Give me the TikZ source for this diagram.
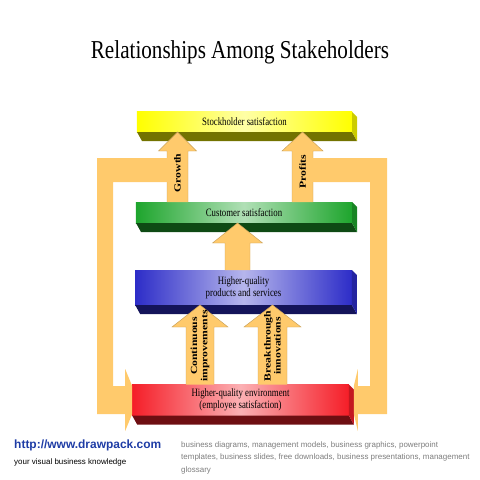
\documentclass[tikz,border=0pt]{standalone}
\usepackage{fontspec}
\setmainfont{Liberation Serif}
\newfontfamily\titlefont[FakeStretch=0.82]{Liberation Serif}
\newfontfamily\barfont[FakeStretch=0.78]{Liberation Serif}
\newfontfamily\arrfont[FakeStretch=1.25]{Liberation Serif}
\newfontfamily\webfont{Liberation Sans}
\usetikzlibrary{calc}
\definecolor{arrtan}{RGB}{255,202,108}
\definecolor{arredge}{RGB}{200,160,90}
\definecolor{ybar}{RGB}{255,255,0}
\definecolor{gbar}{RGB}{30,165,45}
\definecolor{bbar}{RGB}{45,45,200}
\definecolor{rbar}{RGB}{245,30,40}
\definecolor{webblue}{RGB}{30,60,165}
\definecolor{webgray}{RGB}{125,125,125}

\begin{document}
\begin{tikzpicture}[x=0.03cm,y=-0.03cm,
  bar/.style 2 args={left color=#1,right color=#1,middle color=#1!35!white,
    minimum width=6.5cm,minimum height=#2,inner sep=0pt,outer sep=0pt,
    font=\barfont\fontsize{9.6}{10}\selectfont,align=center},
  arr/.style={fill=arrtan,draw=arredge,line width=0.4pt},
  arrlab/.style={rotate=90,font=\arrfont\bfseries\fontsize{8}{8.6}\selectfont,align=center,inner sep=0pt}]
\useasboundingbox (0,0) rectangle (480,480);

% 标题
\node (title) at (240,52) {\titlefont\fontsize{22}{26}\selectfont Relationships Among Stakeholders};

% 四根横梁
\node[bar={ybar}{0.6cm},minimum width=6.45cm] (stock) at (244.5,122) {Stockholder satisfaction};
\node[bar={gbar}{0.63cm},minimum width=6.48cm] (cust) at (244,212.5) {Customer satisfaction};
\node[bar={bbar}{1.05cm}] (prod) at (243.5,287.5) {Higher-quality\\products and services};
\node[bar={rbar}{0.93cm}] (env) at (240.5,400) {Higher-quality environment\\(employee satisfaction)};

% 横梁的底面和侧面
\foreach \b/\c in {stock/ybar,cust/gbar,prod/bbar,env/rbar}{
  \fill[\c!45!black] (\b.south west) -- ++(5,9) -- ($(\b.south east)+(5,9)$) -- (\b.south east) -- cycle;
  \fill[\c!80!black] (\b.north east) -- ++(5,5) -- ($(\b.south east)+(5,9)$) -- (\b.south east) -- cycle;
}

% 向上的箭头: x / 起点 / 终点 / 杆半宽 / 头半宽 / 头长
\foreach \x/\src/\dst/\sw/\hw/\hl in {177.5/cust/stock/10.5/19/19, 302.5/cust/stock/10.5/20.5/19,
    237.5/prod/cust/12.5/25/20, 200/env/prod/14/28/22, 272.5/env/prod/14.5/28.5/22}{
  \coordinate (ax) at (\x,0);
  \coordinate (tail) at (ax |- \src.north);
  \coordinate (tip) at (ax |- \dst.south);
  \filldraw[arr] ($(tail)+(-\sw,0)$) -- ($(tip)+(-\sw,\hl)$) -- ($(tip)+(-\hw,\hl)$) -- (tip)
    -- ($(tip)+(\hw,\hl)$) -- ($(tip)+(\sw,\hl)$) -- ($(tail)+(\sw,0)$);
}

% 两侧的反馈箭头
\fill[arrtan] (177.5,158) -- (97,158) -- (97,414) -- ($(env.west)+(-7,14)$) -- ($(env.west)+(-7,31)$)
  -- ($(env.west)+(0,14)$) -- ($(env.west)+(0,-14)$) -- ($(env.west)+(-7,-31)$) -- ($(env.west)+(-7,-14)$)
  -- (113,386) -- (113,182) -- (177.5,182) -- cycle;
\fill[arrtan] (302.5,158) -- (387,158) -- (387,414) -- ($(env.east)+(9,14)$) -- ($(env.east)+(9,31)$)
  -- ($(env.east)+(5,14)$) -- ($(env.east)+(5,-14)$) -- ($(env.east)+(9,-31)$) -- ($(env.east)+(9,-14)$)
  -- (370,386) -- (370,182) -- (302.5,182) -- cycle;

% 箭头上的文字
\node[arrlab] (growlab) at (177.5,173) {Growth};
\node[arrlab] (proflab) at (302.5,172) {Profits};
\node[arrlab] (contlab) at (200,346) {Continuous\\improvements};
\node[arrlab] (breaklab) at (272.5,346) {Breakthrough\\innovations};

% 页脚
\node[anchor=west,text=webblue,font=\webfont\bfseries\fontsize{10.2}{12}\selectfont,inner sep=0pt] (url) at (14,445) {http://www.drawpack.com};
\node[anchor=west,font=\webfont\fontsize{6.8}{8}\selectfont,inner sep=0pt] (motto) at (14,462) {your visual business knowledge};
\node[anchor=north west,align=left,text=webgray,font=\webfont\fontsize{6.8}{11}\selectfont,inner sep=0pt] (keys) at (181,441)
  {business diagrams, management models, business graphics, powerpoint\\
   templates, business slides, free downloads, business presentations, management\\
   glossary};
\end{tikzpicture}
\end{document}
